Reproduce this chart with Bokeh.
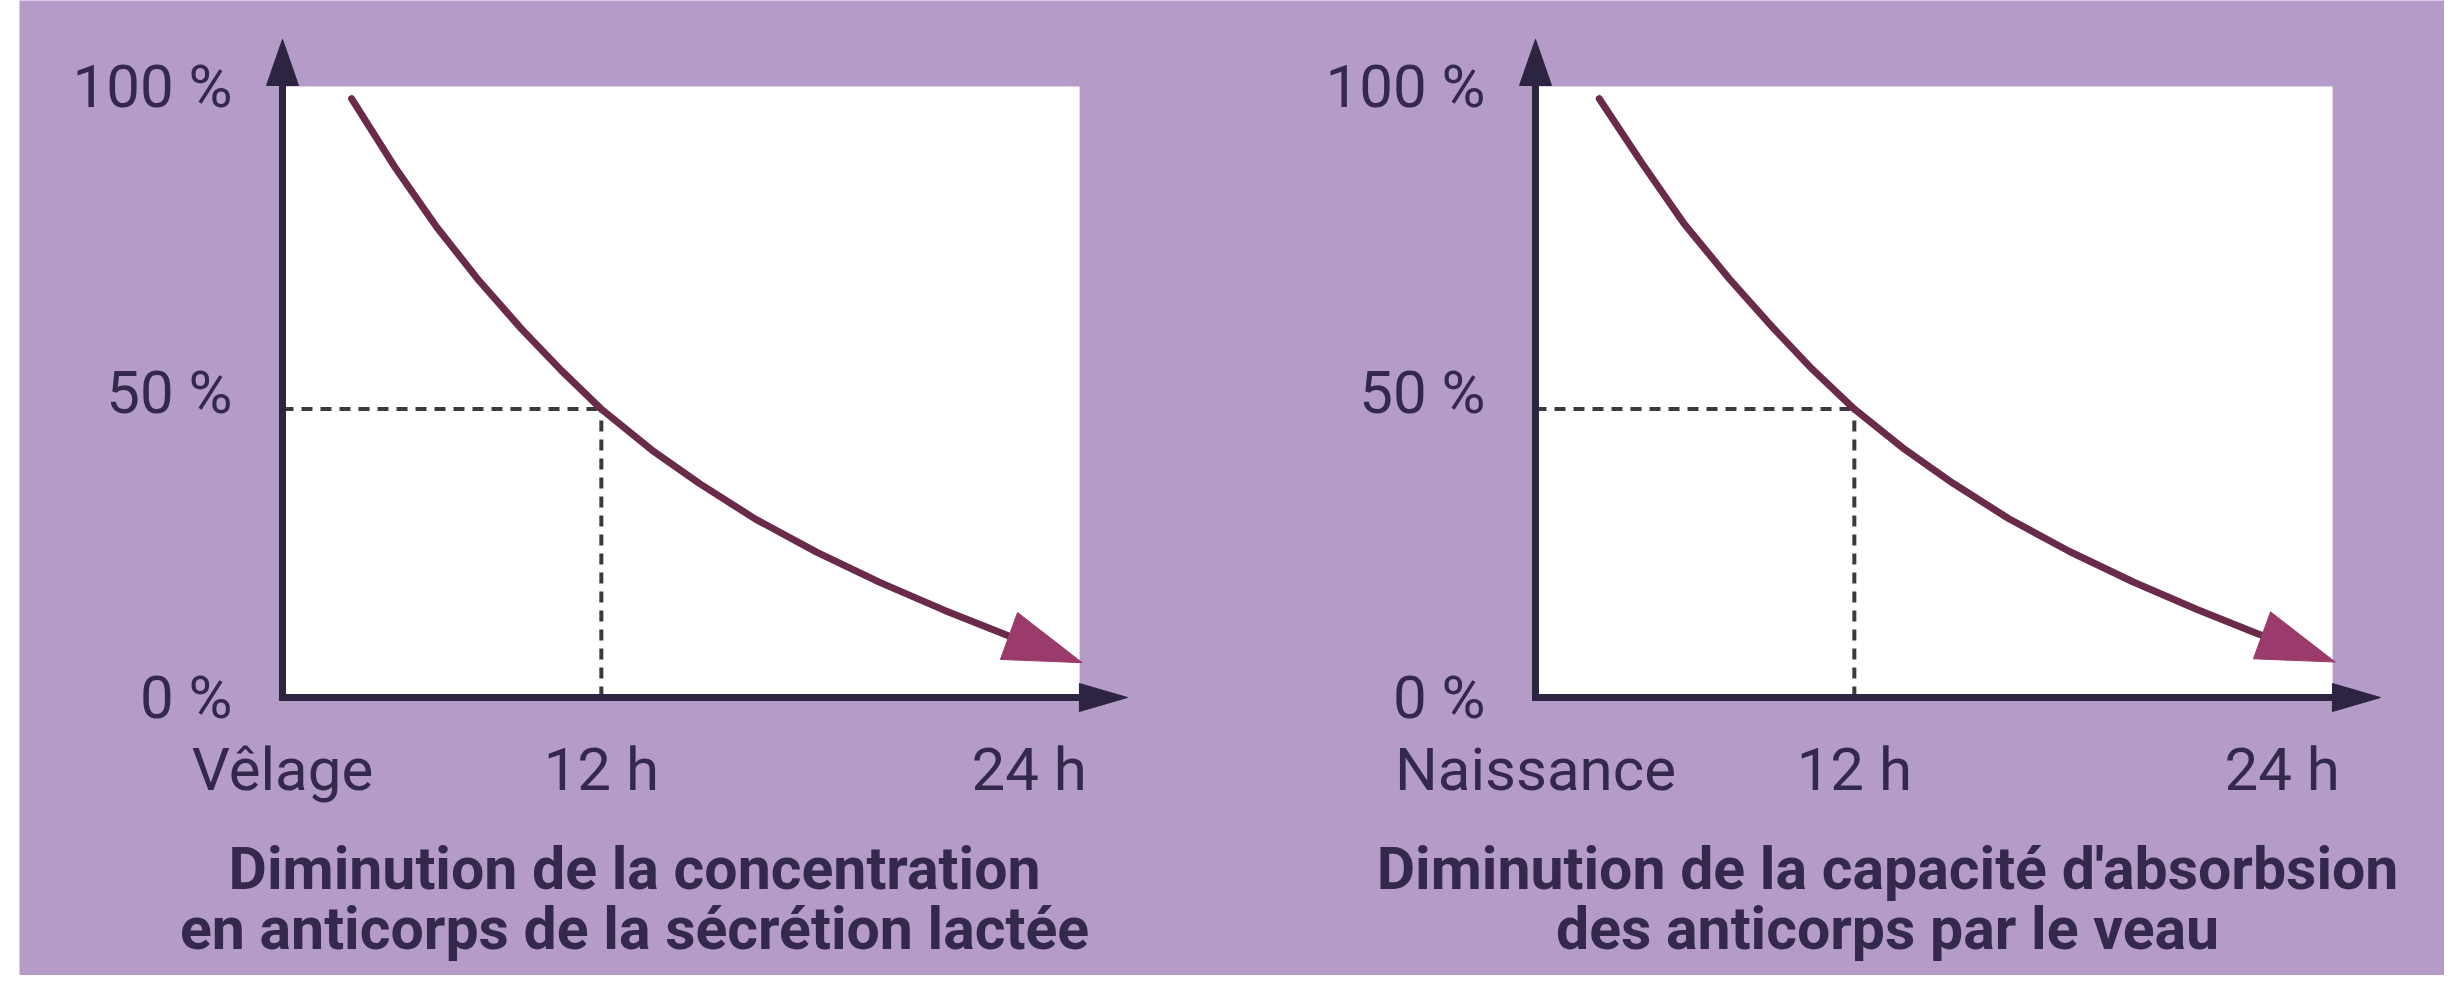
import math
from bokeh.plotting import figure
from bokeh.layouts import row
from bokeh.models import Range1d, FixedTicker, LinearAxis, Label, Spacer
from bokeh.embed import file_html
from bokeh.resources import INLINE

# ---------------- data ----------------
x_tick_pos = [0, 12, 28.1]
left_x_labels = ["Vêlage", "12 h", "24 h"]
right_x_labels = ["Naissance", "12 h", "24 h"]
y_tick_pos = [0, 50, 100]
y_tick_labels = ["0 %", "50 %", "100 %"]

left_time = [2.6, 4.2, 5.8, 7.4, 9.0, 10.5, 12.0, 13.9, 15.7, 17.8, 20.1, 22.5, 24.9, 27.2, 30.1]
left_level = [98.0, 87.0, 77.0, 68.2, 60.3, 53.5, 47.2, 40.5, 35.0, 29.2, 23.8, 18.8, 14.3, 10.3, 5.7]

right_time = [2.4, 4.0, 5.6, 7.3, 8.9, 10.4, 12.0, 13.9, 15.7, 17.8, 20.1, 22.5, 24.9, 27.2, 30.1]
right_level = [98.0, 87.5, 77.5, 68.5, 60.7, 53.8, 47.2, 40.6, 35.1, 29.3, 23.9, 18.9, 14.4, 10.4, 5.8]

half_time = 12.0
left_half_level = 47.2
right_half_level = 47.2

white_x_end = 30      # end of the white plotting area
white_y_end = 100
x_axis_tip = 31.8     # tip of the x axis arrow
y_axis_tip = 107.7    # tip of the y axis arrow
caption_center = 13.25

left_title = ["Diminution de la concentration", "en anticorps de la sécrétion lactée"]
right_title = ["Diminution de la capacité d'absorbsion", "des anticorps par le veau"]

# ---------------- style ----------------
BG = "#b49bc8"
TEXT = "#35284d"
AXIS = "#2c2440"
CURVE = "#6a2a4a"
HEAD = "#9b3b6b"
DASH = "#3a3a40"
FONT = "Roboto"

SX = 26.57          # px per x unit
SY = 6.11           # px per y unit
WIDTH = 2425
HEIGHT = 975
ORIGIN_X = 263      # canvas px to the left chart's origin
ORIGIN_Y = 697      # canvas px from top down to y = 0
RIGHT_SHIFT = (1516 - ORIGIN_X) / SX   # the right chart's origin, in x units

p = figure(width=WIDTH, height=HEIGHT,
           x_range=Range1d(-ORIGIN_X / SX, (WIDTH - ORIGIN_X) / SX),
           y_range=Range1d(-(HEIGHT - ORIGIN_Y) / SY, ORIGIN_Y / SY),
           x_axis_location=None, y_axis_location=None,
           output_backend="svg", toolbar_location=None, min_border=0)
p.background_fill_color = BG
p.border_fill_color = BG
p.outline_line_color = None
p.grid.visible = False


def draw_chart(x0, time, level, half_level, x_labels, title_lines):
    t = [v + x0 for v in time]
    # white plotting area
    p.quad(left=[x0], right=[x0 + white_x_end], bottom=[0], top=[white_y_end],
           fill_color="white", line_color=None)

    # dashed guides
    p.line([x0, x0 + half_time], [half_level, half_level], line_color=DASH,
           line_width=4, line_dash="11 8")
    p.line([x0 + half_time, x0 + half_time], [0, half_level], line_color=DASH,
           line_width=4, line_dash="11 8")

    # curve with arrow head
    tx, ty = t[-1], level[-1]
    dx = (tx - t[-2]) * SX
    dy = (ty - level[-2]) * SY
    L = math.hypot(dx, dy)
    ux, uy = dx / L, dy / L
    nx, ny = -uy, ux
    head_len, head_half = 78, 25
    bx, by = -head_len * ux, -head_len * uy
    base_x, base_y = tx + bx / SX, ty + by / SY
    p.line(t[:-1] + [base_x], level[:-1] + [base_y], line_color=CURVE,
           line_width=7, line_join="round", line_cap="round")
    hx = [tx, tx + (bx + head_half * nx) / SX, tx + (bx - head_half * nx) / SX]
    hy = [ty, ty + (by + head_half * ny) / SY, ty + (by - head_half * ny) / SY]
    p.patch(hx, hy, fill_color=HEAD, line_color=HEAD, line_width=1)

    # axes (placed at the chart origin)
    ticks = [v + x0 for v in x_tick_pos]
    xaxis = LinearAxis(fixed_location=0, bounds=(x0, x0 + white_x_end + 0.5),
                       ticker=FixedTicker(ticks=ticks),
                       major_label_overrides=dict(zip(ticks, x_labels)))
    yaxis = LinearAxis(fixed_location=x0, bounds=(0, white_y_end + 1),
                       ticker=FixedTicker(ticks=y_tick_pos),
                       major_label_overrides=dict(zip(y_tick_pos, y_tick_labels)))
    for ax in (xaxis, yaxis):
        ax.axis_line_color = AXIS
        ax.axis_line_width = 7
        ax.axis_line_cap = "square"
        ax.major_tick_line_color = None
        ax.minor_tick_line_color = None
        ax.major_label_text_font = FONT
        ax.major_label_text_font_size = "60px"
        ax.major_label_text_color = TEXT
    xaxis.major_label_standoff = 30
    yaxis.major_label_standoff = 44
    p.add_layout(xaxis, "below")
    p.add_layout(yaxis, "left")

    # axis arrow heads
    xl, xh = 48 / SX, 14 / SY
    xt = x0 + x_axis_tip
    p.patch([xt, xt - xl, xt - xl], [0, xh, -xh], fill_color=AXIS, line_color=AXIS)
    yl, yh = 46 / SY, 16 / SX
    p.patch([x0, x0 + yh, x0 - yh], [y_axis_tip, y_axis_tip - yl, y_axis_tip - yl],
            fill_color=AXIS, line_color=AXIS)

    # caption (two lines) below the chart
    for line, off in zip(title_lines, [171, 231]):
        p.add_layout(Label(x=x0 + caption_center, y=-off / SY, text=line,
                           text_align="center", text_baseline="alphabetic",
                           text_font=FONT, text_font_size="59px",
                           text_line_height=1.0,
                           text_font_style="bold", text_color=TEXT))


draw_chart(0, left_time, left_level, left_half_level, left_x_labels, left_title)
draw_chart(RIGHT_SHIFT, right_time, right_level, right_half_level, right_x_labels, right_title)

layout = row(Spacer(width=19, height=HEIGHT), p)
open("out.html", "w").write(file_html(layout, INLINE))
